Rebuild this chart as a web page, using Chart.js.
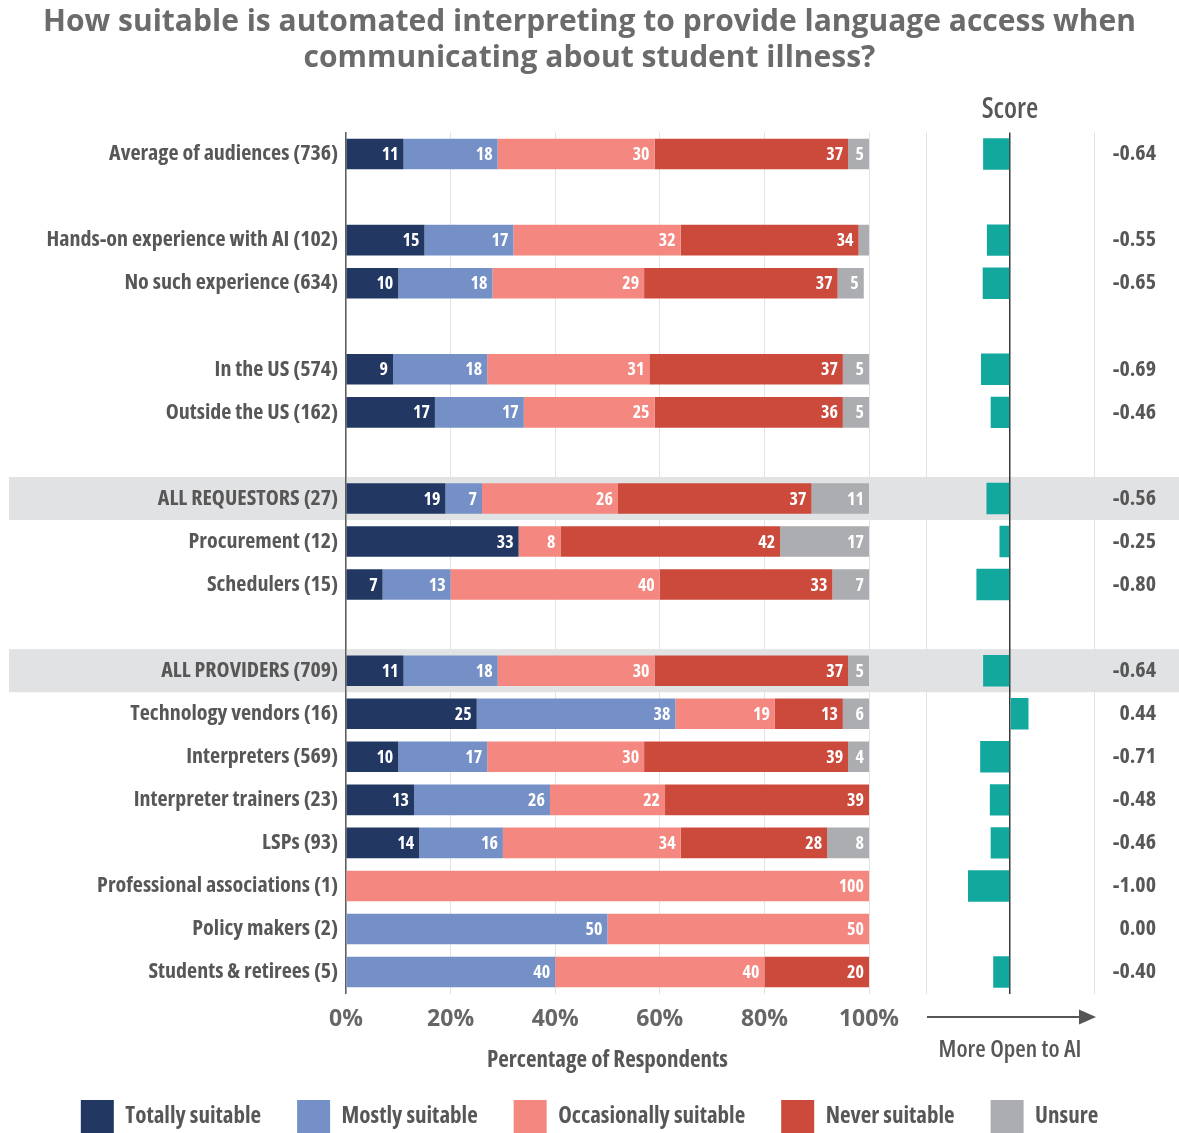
<!DOCTYPE html>
<html>
<head>
<meta charset="utf-8">
<script src="https://cdn.jsdelivr.net/npm/chart.js@4.4.1/dist/chart.umd.min.js"></script>
<style>
  html, body { margin: 0; padding: 0; overflow: hidden; background: #ffffff; width: 1179px; height: 1133px; }
  #wrap { position: relative; width: 1179px; height: 1133px; }
  #wrap canvas { position: absolute; left: 0; top: 0; }
</style>
</head>
<body>
<div id="wrap">
  <canvas id="shares" width="1179" height="1143"></canvas>
  <canvas id="score" width="1179" height="1133"></canvas>
</div>
<script>
// Audience groups; empty strings are spacer rows between groups
const categories = [
  'Average of audiences (736)', '',
  'Hands-on experience with AI (102)', 'No such experience (634)', '',
  'In the US (574)', 'Outside the US (162)', '',
  'ALL REQUESTORS (27)', 'Procurement (12)', 'Schedulers (15)', '',
  'ALL PROVIDERS (709)', 'Technology vendors (16)', 'Interpreters (569)',
  'Interpreter trainers (23)', 'LSPs (93)', 'Professional associations (1)',
  'Policy makers (2)', 'Students & retirees (5)'
];

// Percentage of respondents per answer
const totallySuitable      = [11, null, 15, 10, null,  9, 17, null, 19, 33,  7, null, 11, 25, 10, 13, 14,   0,  0,  0];
const mostlySuitable       = [18, null, 17, 18, null, 18, 17, null,  7,  0, 13, null, 18, 38, 17, 26, 16,   0, 50, 40];
const occasionallySuitable = [30, null, 32, 29, null, 31, 25, null, 26,  8, 40, null, 30, 19, 30, 22, 34, 100, 50, 40];
const neverSuitable        = [37, null, 34, 37, null, 37, 36, null, 37, 42, 33, null, 37, 13, 39, 39, 28,   0,  0, 20];
const unsure               = [ 5, null,  2,  5, null,  5,  5, null, 11, 17,  7, null,  5,  6,  4,  0,  8,   0,  0,  0];

// Openness score per group
const scores = [-0.64, null, -0.55, -0.65, null, -0.69, -0.46, null, -0.56, -0.25, -0.80, null,
                -0.64, 0.44, -0.71, -0.48, -0.46, -1.00, 0.00, -0.40];

const seriesNames  = ['Totally suitable', 'Mostly suitable', 'Occasionally suitable', 'Never suitable', 'Unsure'];
const seriesValues = [totallySuitable, mostlySuitable, occasionallySuitable, neverSuitable, unsure];
const percentTicks = [0, 20, 40, 60, 80, 100];
const summaryRows  = ['ALL REQUESTORS (27)', 'ALL PROVIDERS (709)'];

const seriesColors = ['#223862', '#7490c6', '#f4877f', '#cb4a3b', '#acadb0'];
const scoreColor   = '#13a89e';
const FAMILY = "'Open Sans', 'Noto Sans', sans-serif";
const NARROW = 'condensed bold';          // condensed width of the same family
const TEXT = '#575757';

// Grey band behind the summary rows, across the whole width
const summaryBands = {
  id: 'summaryBands',
  beforeDraw(chart) {
    const { ctx, scales: { y } } = chart;
    const slot = y.getPixelForValue(1) - y.getPixelForValue(0);
    ctx.save();
    ctx.fillStyle = '#e1e2e4';
    summaryRows.forEach(name => {
      const c = y.getPixelForValue(categories.indexOf(name));
      ctx.fillRect(9, c - slot / 2, chart.width - 9, slot);
    });
    ctx.restore();
  }
};

// White value labels at the right end of each segment
const segmentLabels = {
  id: 'segmentLabels',
  afterDatasetsDraw(chart) {
    const { ctx, chartArea } = chart;
    ctx.save();
    ctx.font = 'normal condensed bold 18px ' + FAMILY;
    ctx.fillStyle = '#ffffff';
    ctx.textAlign = 'right';
    ctx.textBaseline = 'middle';
    chart.data.datasets.forEach((ds, di) => {
      chart.getDatasetMeta(di).data.forEach((bar, i) => {
        const v = ds.data[i];
        if (v == null || v < 3) return;
        const end = Math.min(bar.x, chartArea.right);
        ctx.fillText(String(v), end - 5, bar.y + 1);
      });
    });
    ctx.restore();
  }
};

new Chart(document.getElementById('shares'), {
  type: 'bar',
  data: {
    labels: categories,
    datasets: seriesNames.map((name, i) => ({
      label: name,
      data: seriesValues[i],
      backgroundColor: seriesColors[i],
      borderWidth: 0,
      barPercentage: 0.71,
      categoryPercentage: 1,
      clip: 0
    }))
  },
  options: {
    indexAxis: 'y',
    responsive: false,
    animation: false,
    events: [],
    layout: { padding: 0 },
    scales: {
      x: {
        stacked: true,
        min: percentTicks[0],
        max: percentTicks[percentTicks.length - 1],
        afterBuildTicks: s => { s.ticks = percentTicks.map(v => ({ value: v })); },
        ticks: {
          callback: v => v + '%',
          color: '#666666',
          font: { family: FAMILY, size: 23, weight: 'bold' },
          padding: 12,
          maxRotation: 0
        },
        grid: { color: '#e3e3e3', lineWidth: 1, drawTicks: false },
        border: { display: false },
        title: {
          display: true,
          text: 'Percentage of Respondents',
          color: TEXT,
          font: { family: FAMILY, size: 23, weight: NARROW },
          padding: { top: 0, bottom: -10.5 }
        },
        afterFit: s => { s.height = 70.4; }
      },
      y: {
        stacked: true,
        ticks: {
          autoSkip: false,
          color: TEXT,
          font: { family: FAMILY, size: 22, weight: NARROW },
          padding: 8
        },
        grid: { color: 'rgba(0,0,0,0)', drawTicks: false },
        border: { display: true, color: '#5f5f5f', width: 1.5 },
        afterFit: s => { s.width = 346; }
      },
      // empty right-hand gutter that holds the score panel
      gutter: {
        type: 'category',
        axis: 'y',
        position: 'right',
        ticks: { display: false },
        grid: { display: false, drawTicks: false },
        border: { display: false },
        afterFit: s => { s.width = 310; }
      }
    },
    plugins: {
      title: {
        display: true,
        text: ['How suitable is automated interpreting to provide language access when',
               'communicating about student illness?'],
        color: '#6b6b6b',
        font: { family: FAMILY, size: 30, weight: 'bold', lineHeight: 36 / 30 },
        padding: { top: 4, bottom: 56.5 }
      },
      legend: {
        position: 'bottom',
        labels: {
          boxWidth: 33,
          boxHeight: 33,
          padding: 36,
          color: TEXT,
          font: { family: FAMILY, size: 23, weight: NARROW }
        }
      },
      tooltip: { enabled: false }
    }
  },
  plugins: [summaryBands, segmentLabels]
});

// Arrow under the score panel pointing toward higher openness
const opennessArrow = {
  id: 'opennessArrow',
  afterDraw(chart) {
    const { ctx, chartArea, scales: { x } } = chart;
    const x0 = x.getPixelForValue(x.min) + 1;
    const x1 = x.getPixelForValue(x.max) + 2;
    const yy = chartArea.bottom + 23.5;
    ctx.save();
    ctx.strokeStyle = '#555555';
    ctx.fillStyle = '#555555';
    ctx.lineWidth = 2;
    ctx.beginPath();
    ctx.moveTo(x0, yy);
    ctx.lineTo(x1 - 12, yy);
    ctx.stroke();
    ctx.beginPath();
    ctx.moveTo(x1, yy);
    ctx.lineTo(x1 - 17, yy - 7.5);
    ctx.lineTo(x1 - 17, yy + 7.5);
    ctx.closePath();
    ctx.fill();
    ctx.restore();
  }
};

new Chart(document.getElementById('score'), {
  type: 'bar',
  data: {
    labels: categories,
    datasets: [{
      label: 'Score',
      data: scores,
      backgroundColor: scoreColor,
      borderWidth: 0,
      barPercentage: 0.73,
      categoryPercentage: 1
    }]
  },
  options: {
    indexAxis: 'y',
    responsive: false,
    animation: false,
    events: [],
    layout: { padding: { left: 926, right: 23, top: 0, bottom: 68.6 } },
    scales: {
      x: {
        min: -2,
        max: 2,
        ticks: { display: false, stepSize: 2 },
        grid: {
          drawTicks: false,
          color: c => (c.tick && c.tick.value === 0 ? '#3a3a3a' : '#e0e0e0'),
          lineWidth: c => (c.tick && c.tick.value === 0 ? 1.5 : 1)
        },
        border: { display: false },
        title: {
          display: true,
          text: 'More Open to AI',
          color: TEXT,
          font: { family: FAMILY, size: 24, weight: 'condensed 600' },
          padding: { top: 42, bottom: 0 }
        }
      },
      y: {
        position: 'right',
        ticks: {
          autoSkip: false,
          callback: v => (scores[v] == null ? '' : scores[v].toFixed(2)),
          crossAlign: 'far',
          color: TEXT,
          font: { family: FAMILY, size: 22, weight: NARROW }
        },
        grid: { display: false, drawTicks: false },
        border: { display: false },
        afterFit: s => { s.width = 62; }
      }
    },
    plugins: {
      legend: { display: false },
      tooltip: { enabled: false },
      title: {
        display: true,
        text: 'Score',
        fullSize: false,
        color: TEXT,
        font: { family: FAMILY, size: 28, weight: 'condensed 600' },
        padding: { top: 93.2, bottom: 5.7 }
      }
    }
  },
  plugins: [opennessArrow]
});
</script>
</body>
</html>
